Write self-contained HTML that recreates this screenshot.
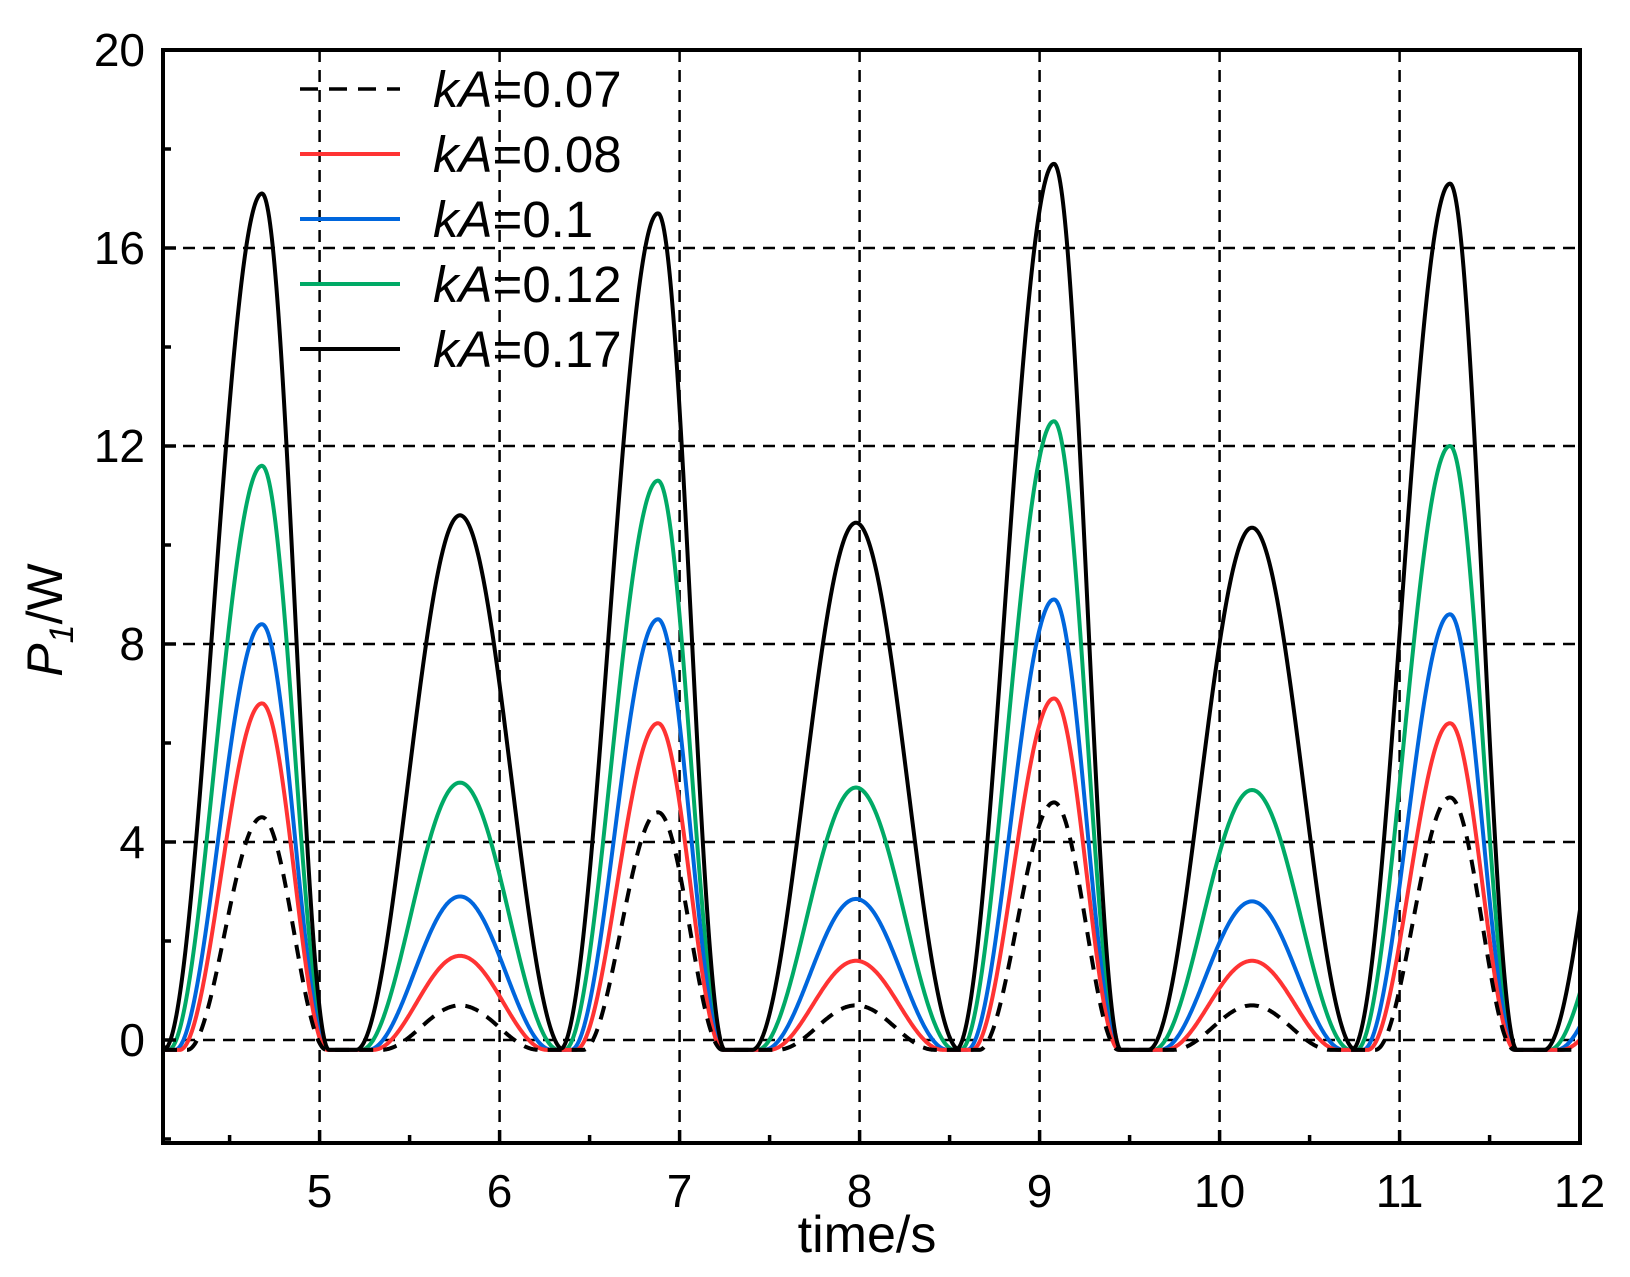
<!DOCTYPE html>
<html><head><meta charset="utf-8"><style>
body{margin:0;background:#fff}
svg text{font-family:"Liberation Sans",Arial,sans-serif;fill:#000}
</style></head><body>
<svg id="s" width="1630" height="1272" viewBox="0 0 1630 1272" xmlns="http://www.w3.org/2000/svg">
<defs><clipPath id="c"><rect x="163" y="50" width="1417" height="1093"/></clipPath></defs>
<g id="grid" stroke="#000" stroke-width="2.5" stroke-dasharray="12,8" fill="none"></g>
<g id="curves" clip-path="url(#c)" fill="none" stroke-width="4" stroke-linejoin="round"></g>
<g id="ticks" stroke="#000" stroke-width="3.5"></g>
<rect x="163" y="50" width="1417" height="1093" fill="none" stroke="#000" stroke-width="4"/>
<g id="labels" font-size="46"></g>
<g font-size="51">
<line x1="300" y1="89" x2="400" y2="89" stroke="#000" stroke-width="3.5" stroke-dasharray="18,11"/>
<line x1="300" y1="154" x2="400" y2="154" stroke="#ff3333" stroke-width="4"/>
<line x1="300" y1="219" x2="400" y2="219" stroke="#0066dd" stroke-width="4"/>
<line x1="300" y1="284" x2="400" y2="284" stroke="#00aa66" stroke-width="4"/>
<line x1="300" y1="349" x2="400" y2="349" stroke="#000" stroke-width="4"/>
<text x="433" y="107"><tspan font-style="italic">kA</tspan>=0.07</text>
<text x="433" y="172"><tspan font-style="italic">kA</tspan>=0.08</text>
<text x="433" y="237"><tspan font-style="italic">kA</tspan>=0.1</text>
<text x="433" y="302"><tspan font-style="italic">kA</tspan>=0.12</text>
<text x="433" y="367"><tspan font-style="italic">kA</tspan>=0.17</text>
</g>
<text x="867" y="1252" font-size="52" text-anchor="middle">time/s</text>
<text transform="translate(62,620) rotate(-90)" font-size="50" text-anchor="middle"><tspan font-style="italic">P</tspan><tspan font-style="italic" font-size="34" dy="11">1</tspan><tspan dy="-11">/W</tspan></text>
</svg>
<script>
var X=t=>163+(t-4.13)*180, Y=v=>1040-v*49.5;
var ns="http://www.w3.org/2000/svg";
function el(p,tag,a){var e=document.createElementNS(ns,tag);for(var k in a)e.setAttribute(k,a[k]);document.getElementById(p).appendChild(e);return e;}
for(var x=5;x<=11;x++)el('grid','line',{x1:X(x),y1:50,x2:X(x),y2:1143});
for(var y=0;y<=16;y+=4)el('grid','line',{x1:163,y1:Y(y),x2:1580,y2:Y(y)});
for(var x=4.5;x<12;x+=0.5){var L=(x%1==0)?13:8;el('ticks','line',{x1:X(x),y1:1143,x2:X(x),y2:1143-L});}
for(var y=-2;y<=20;y+=2){var L=(y%4==0)?13:8;el('ticks','line',{x1:163,y1:Y(y),x2:163+L,y2:Y(y)});}
for(var x=5;x<=12;x++){var t=el('labels','text',{x:X(x),y:1207,'text-anchor':'middle'});t.textContent=x;}
for(var y=0;y<=20;y+=4){var t=el('labels','text',{x:145,y:Y(y)+16,'text-anchor':'end'});t.textContent=y;}
var series=[
 {c:'#00aa66',w:1,amp:[11.6,5.2,11.3,5.1,12.5,5.05,12.0,5]},
 {c:'#0066dd',w:0.93,amp:[8.4,2.9,8.5,2.85,8.9,2.8,8.6,2.8]},
 {c:'#ff3333',w:0.88,amp:[6.8,1.7,6.4,1.6,6.9,1.6,6.4,1.6]},
 {c:'#000',w:0.8,amp:[4.5,0.7,4.6,0.7,4.8,0.7,4.9,0.7],d:'14,10'},
 {c:'#000',w:1.05,amp:[17.1,10.6,16.7,10.45,17.7,10.35,17.3,10.4]}
];
function lobe(t,c,A,wl,wr){var d=t-c;var w=d<0?wl:wr;if(Math.abs(d)>=w)return 0;var q=Math.cos(Math.PI/2*d/w);return (A+0.2)*Math.pow(q,2);}
series.forEach(function(s){
 var d='';
 for(var t=4.13;t<=12.01;t+=0.005){
  var v=0;
  for(var k=-1;k<4;k++){
   var bc=4.68+2.2*k, sc=5.78+2.2*k;
   var ab=s.amp[Math.max(0,Math.min(7,2*k))], as=s.amp[Math.max(0,Math.min(7,2*k+1))];
   v+=lobe(t,bc,ab,0.52*s.w,0.37*(0.85+0.15*s.w));
   v+=lobe(t,sc,as,0.55*s.w,0.55*s.w);
  }
  v-=0.2;
  d+=(d?'L':'M')+X(t).toFixed(1)+','+Y(v).toFixed(1);
 }
 var a={d:d,stroke:s.c};if(s.d)a['stroke-dasharray']=s.d;
 el('curves','path',a);
});
</script>
</body></html>
